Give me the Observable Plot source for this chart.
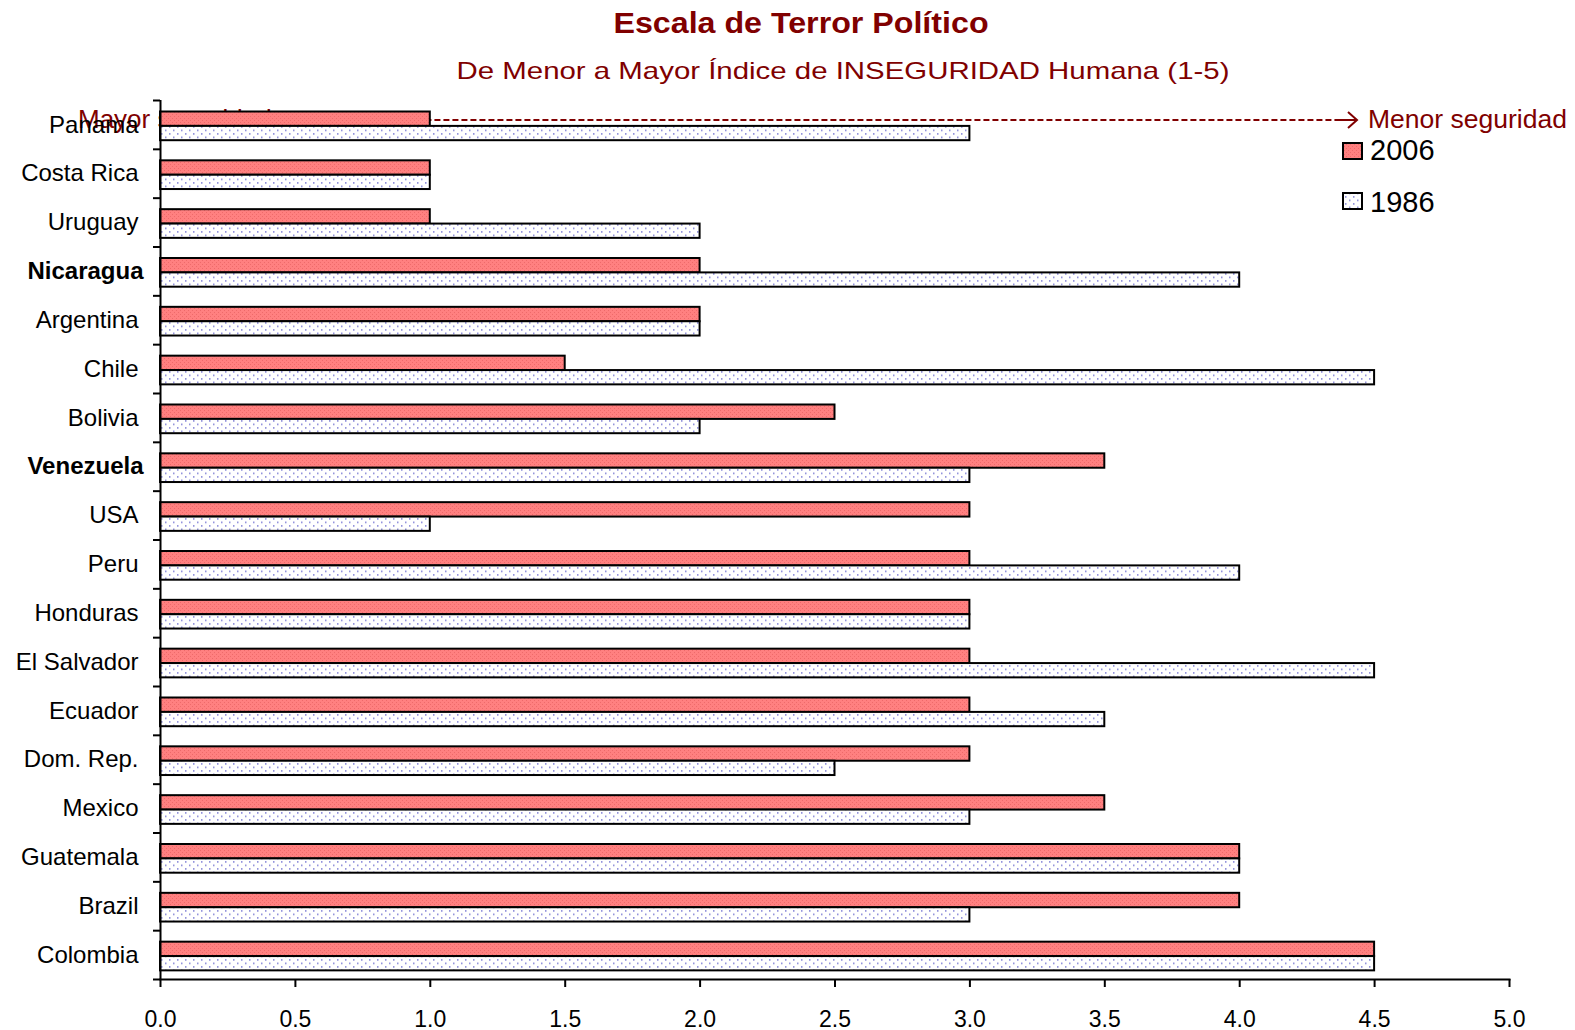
<!DOCTYPE html>
<html>
<head>
<meta charset="utf-8">
<script src="https://cdn.jsdelivr.net/npm/d3@7"></script>
<script src="https://cdn.jsdelivr.net/npm/@observablehq/plot@0.6"></script>
<style>
  html, body { margin: 0; padding: 0; background: white; }
  body { width: 1575px; height: 1030px; overflow: hidden; font-family: "Liberation Sans", Arial, sans-serif; }
  #header { position: relative; width: 1575px; height: 90px; }
  #header div { position: absolute; white-space: nowrap; line-height: 1; color: #800000; }
  #title { left: 801px; top: 9px; font-size: 29px; font-weight: bold; transform: translateX(-50%) scaleX(1.11); }
  #subtitle { left: 843px; top: 59px; font-size: 24px; transform: translateX(-50%) scaleX(1.225); }
  #chart svg { display: block; }
</style>
</head>
<body>
<div id="header">
  <div id="title">Escala de Terror Político</div>
  <div id="subtitle">De Menor a Mayor Índice de INSEGURIDAD Humana (1-5)</div>
</div>
<div id="chart"></div>
<script>
const countries = ["Panama", "Costa Rica", "Uruguay", "Nicaragua", "Argentina", "Chile", "Bolivia", "Venezuela", "USA", "Peru", "Honduras", "El Salvador", "Ecuador", "Dom. Rep.", "Mexico", "Guatemala", "Brazil", "Colombia"];
const values2006 = [1, 1, 1, 2, 2, 1.5, 2.5, 3.5, 3, 3, 3, 3, 3, 3, 3.5, 4, 4, 4.5];
const values1986 = [3, 1, 2, 4, 2, 4.5, 2, 3, 1, 4, 3, 4.5, 3.5, 2.5, 3, 4, 3, 4.5];
const boldCountries = ["Nicaragua", "Venezuela"];
const xTicks = [0, 0.5, 1, 1.5, 2, 2.5, 3, 3.5, 4, 4.5, 5];
const seriesNames = ["2006", "1986"];
const annotLeft = "Mayor seguridad";
const annotRight = "Menor seguridad";

const rows = countries.map((c, i) => ({country: c, v2006: values2006[i], v1986: values1986[i]}));

const W = 1575, H = 940, MT = 10, MB = 51, ML = 160, MR = 66;
const bw = (H - MT - MB) / countries.length;

const chart = Plot.plot({
  width: W, height: H,
  marginTop: MT, marginBottom: MB, marginLeft: ML, marginRight: MR,
  style: {fontFamily: "'Liberation Sans', Arial, sans-serif", color: "black", background: "white", overflow: "visible"},
  x: {domain: [0, 5], axis: null},
  y: {domain: countries, padding: 0, round: false, axis: null},
  marks: [
    Plot.barX(rows, {y: "country", x: "v2006", fill: "url(#pat2006)", stroke: "black", strokeWidth: 2, insetTop: 11.5, insetBottom: bw - 25.9}),
    Plot.barX(rows, {y: "country", x: "v1986", fill: "url(#pat1986)", stroke: "black", strokeWidth: 2, insetTop: 25.9, insetBottom: bw - 40.2}),
    Plot.axisX({ticks: xTicks, tickFormat: d => d.toFixed(1), tickSize: 8, tickPadding: 23, fontSize: 23, strokeWidth: 2, label: null}),
    Plot.axisY({ticks: countries.filter(c => !boldCountries.includes(c)), tickSize: 0, tickPadding: 22, fontSize: 24, label: null}),
    Plot.axisY({ticks: boldCountries, tickSize: 0, tickPadding: 17, fontSize: 24, fontWeight: "bold", label: null}),
    Plot.axisY({ticks: countries, tickSize: 7, fill: "none", strokeWidth: 2, dy: -bw / 2, label: null}),
    Plot.axisY({ticks: [countries[countries.length - 1]], tickSize: 7, fill: "none", strokeWidth: 2, dy: bw / 2, label: null}),
    Plot.ruleX([0], {strokeWidth: 2}),
    Plot.frame({anchor: "bottom", strokeWidth: 2})
  ]
});

document.getElementById("chart").appendChild(chart);

const svg = d3.select(chart);
const defs = svg.insert("defs", ":first-child");
const p6 = defs.append("pattern").attr("id", "pat2006").attr("width", 4).attr("height", 4).attr("patternUnits", "userSpaceOnUse");
p6.append("rect").attr("width", 4).attr("height", 4).attr("fill", "#FF8080");
p6.append("rect").attr("width", 1).attr("height", 1).attr("fill", "#EE6A6A");
p6.append("rect").attr("x", 2).attr("y", 2).attr("width", 1).attr("height", 1).attr("fill", "#EE6A6A");
const p8 = defs.append("pattern").attr("id", "pat1986").attr("width", 8).attr("height", 7).attr("patternUnits", "userSpaceOnUse");
p8.append("rect").attr("width", 8).attr("height", 7).attr("fill", "#FFFFFF");
p8.append("rect").attr("x", 1).attr("y", 1).attr("width", 1.5).attr("height", 1.8).attr("fill", "#9494DC");
p8.append("rect").attr("x", 5).attr("y", 4.5).attr("width", 1.5).attr("height", 1.8).attr("fill", "#9494DC");

// Annotation behind the bars
const xs = chart.scale("x");
const ann = svg.insert("g", "defs + *").attr("text-anchor", "start");
ann.append("text").attr("x", 78).attr("y", 38).attr("fill", "#800000").attr("font-size", 26).attr("text-anchor", "start").text(annotLeft);
ann.append("line").attr("x1", xs.apply(0.35)).attr("x2", 1337).attr("y1", 30).attr("y2", 30)
  .attr("stroke", "#800000").attr("stroke-width", 2).attr("stroke-dasharray", "6,3");
ann.append("path").attr("d", "M1336,30H1357M1348,22L1357,30L1348,38").attr("fill", "none").attr("stroke", "#800000").attr("stroke-width", 2);
ann.append("text").attr("x", 1368).attr("y", 38).attr("fill", "#800000").attr("font-size", 26.5).attr("text-anchor", "start").text(annotRight);

// Legend
const lg = svg.append("g").attr("text-anchor", "start");
[["pat2006", 53, 70], ["pat1986", 103, 121.5]].forEach(([p, y, ty], i) => {
  lg.append("rect").attr("x", 1343).attr("y", y).attr("width", 19).attr("height", 16).attr("fill", `url(#${p})`).attr("stroke", "black").attr("stroke-width", 2);
  lg.append("text").attr("x", 1370).attr("y", ty).attr("font-size", 29).attr("fill", "black").attr("text-anchor", "start").text(seriesNames[i]);
});
</script>
</body>
</html>
